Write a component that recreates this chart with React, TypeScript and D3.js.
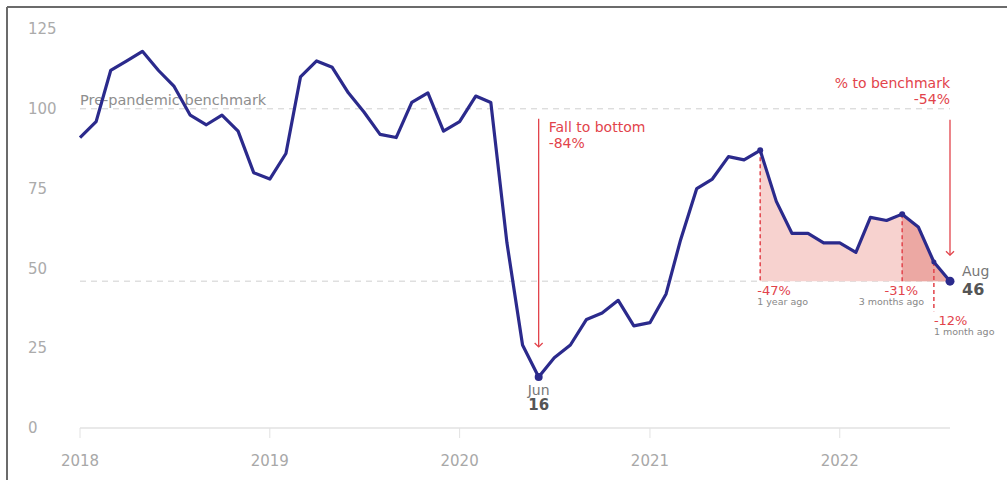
import React from "react";
import * as d3 from "d3";

const startYear = 2018;
const values: number[] = [
  91, 96, 112, 115, 118, 112, 107, 98, 95, 98, 93, 80,
  78, 86, 110, 115, 113, 105, 99, 92, 91, 102, 105, 93,
  96, 104, 102, 58, 26, 16, 22, 26, 34, 36, 40, 32,
  33, 42, 59, 75, 78, 85, 84, 87, 71, 61, 61, 58,
  58, 55, 66, 65, 67, 63, 52, 46,
];
const dates: Date[] = values.map((_, i) => new Date(startYear, i, 1));
const yTicks = [0, 25, 50, 75, 100, 125];
const xTickYears = [2018, 2019, 2020, 2021, 2022];
const benchmark = 100;

const W = 1007;
const H = 480;
const NAVY = "#2b2a8c";
const RED = "#e2434b";
const FONT = "'DejaVu Sans', sans-serif";

export default function App() {
  const x = d3
    .scaleTime()
    .domain([dates[0], dates[dates.length - 1]])
    .range([80, 950]);
  const y = d3.scaleLinear().domain([0, 125]).range([428, 29]);

  const n = values.length;
  const last = values[n - 1];
  const iMin = values.indexOf(d3.min(values) as number);
  const iYear = n - 13;
  const i3m = n - 4;
  const i1m = n - 2;

  const line = d3
    .line<number>()
    .x((_, i) => x(dates[i]))
    .y((d) => y(d));

  const area = d3
    .area<number>()
    .x((d) => x(dates[d]))
    .y0(y(last))
    .y1((d) => y(values[d]));

  const idxYear = d3.range(iYear, n);
  const idx3m = d3.range(i3m, n);

  const pct = (a: number, b: number) => Math.round(((a - b) / b) * 100);

  const xMin = x(dates[iMin]);
  const xLast = x(dates[n - 1]);

  const arrow = (ax: number, y1: number, y2: number) => (
    <g stroke={RED} strokeWidth={1.3} fill="none">
      <line x1={ax} x2={ax} y1={y1} y2={y2} />
      <path d={`M${ax - 4},${y2 - 4} L${ax},${y2} L${ax + 4},${y2 - 4}`} />
    </g>
  );

  return (
    <svg
      width={W}
      height={H}
      style={{ position: "absolute", left: 0, top: 0, background: "#fff" }}
      fontFamily={FONT}
    >
      {/* frame */}
      <line x1={7} x2={W} y1={7} y2={7} stroke="#6b6b6b" strokeWidth={2} />
      <line x1={7} x2={7} y1={7} y2={H} stroke="#6b6b6b" strokeWidth={2} />

      {/* y tick labels */}
      {yTicks.map((t) => (
        <text key={t} x={28} y={y(t)} dy="0.35em" fontSize={15} fill="#ababab">
          {t}
        </text>
      ))}

      {/* x axis */}
      <line x1={80} x2={950} y1={y(0)} y2={y(0)} stroke="#e2e2e2" strokeWidth={1.5} />
      {xTickYears.map((yr) => {
        const xx = x(new Date(yr, 0, 1));
        return (
          <g key={yr}>
            <line x1={xx} x2={xx} y1={y(0)} y2={y(0) + 10} stroke="#e2e2e2" strokeWidth={1} />
            <text x={xx} y={466} textAnchor="middle" fontSize={15} fill="#a8a8a8">
              {yr}
            </text>
          </g>
        );
      })}

      {/* reference lines */}
      <line
        x1={80}
        x2={950}
        y1={y(benchmark)}
        y2={y(benchmark)}
        stroke="#cfcfcf"
        strokeDasharray="6,5"
        strokeWidth={1}
      />
      <line
        x1={80}
        x2={950}
        y1={y(last)}
        y2={y(last)}
        stroke="#cfcfcf"
        strokeDasharray="6,5"
        strokeWidth={1}
      />
      <text x={80} y={y(benchmark) - 4} fontSize={14.5} fill="#8e8e8e">
        Pre-pandemic benchmark
      </text>

      {/* shaded areas */}
      <path d={area(idxYear) || ""} fill="#f7d2cf" />
      <path d={area(idx3m) || ""} fill="#eca8a3" />

      {/* dashed verticals */}
      <line
        x1={x(dates[iYear])}
        x2={x(dates[iYear])}
        y1={y(values[iYear])}
        y2={y(last)}
        stroke={RED}
        strokeWidth={1.5}
        strokeDasharray="4,3"
      />
      <line
        x1={x(dates[i3m])}
        x2={x(dates[i3m])}
        y1={y(values[i3m])}
        y2={y(last)}
        stroke={RED}
        strokeWidth={1.5}
        strokeDasharray="4,3"
      />
      <line
        x1={x(dates[i1m])}
        x2={x(dates[i1m])}
        y1={y(values[i1m])}
        y2={y(last) + 30}
        stroke={RED}
        strokeWidth={1.5}
        strokeDasharray="4,3"
      />

      {/* main line */}
      <path d={line(values) || ""} fill="none" stroke={NAVY} strokeWidth={3.2} strokeLinejoin="round" />

      {/* dots */}
      <circle cx={xMin} cy={y(values[iMin])} r={4} fill={NAVY} />
      <circle cx={x(dates[iYear])} cy={y(values[iYear])} r={3} fill={NAVY} />
      <circle cx={x(dates[i3m])} cy={y(values[i3m])} r={3} fill={NAVY} />
      <circle cx={x(dates[i1m])} cy={y(values[i1m])} r={2.5} fill={NAVY} />
      <circle cx={xLast} cy={y(last)} r={4.5} fill={NAVY} />

      {/* fall to bottom */}
      {arrow(xMin, y(benchmark) + 10, y(values[iMin]) - 30)}
      <text x={xMin + 10} y={132} fontSize={14} fill={RED}>
        Fall to bottom
      </text>
      <text x={xMin + 10} y={148} fontSize={14} fill={RED}>
        {pct(values[iMin], benchmark)}%
      </text>
      <text x={xMin} y={395} textAnchor="middle" fontSize={14} fill="#777">
        Jun
      </text>
      <text x={xMin} y={410} textAnchor="middle" fontSize={15} fontWeight={700} fill="#555">
        {values[iMin]}
      </text>

      {/* % to benchmark */}
      <text x={xLast} y={88} textAnchor="end" fontSize={14} fill={RED}>
        % to benchmark
      </text>
      <text x={xLast} y={104} textAnchor="end" fontSize={14} fill={RED}>
        {pct(last, benchmark)}%
      </text>
      {arrow(xLast, y(benchmark) + 11, y(last) - 26)}

      <text x={xLast + 12} y={276} fontSize={14} fill="#777">
        Aug
      </text>
      <text x={xLast + 12} y={295} fontSize={16} fontWeight={700} fill="#555">
        {last}
      </text>

      {/* change labels */}
      <text x={x(dates[iYear]) - 3} y={295} fontSize={13} fill={RED}>
        {pct(last, values[iYear])}%
      </text>
      <text x={x(dates[iYear]) - 3} y={305} fontSize={9.5} fill="#888">
        1 year ago
      </text>
      <text x={x(dates[i3m]) + 16} y={295} textAnchor="end" fontSize={13} fill={RED}>
        {pct(last, values[i3m])}%
      </text>
      <text x={x(dates[i3m]) + 22} y={305} textAnchor="end" fontSize={9.5} fill="#888">
        3 months ago
      </text>
      <text x={x(dates[i1m])} y={325} fontSize={13} fill={RED}>
        {pct(last, values[i1m])}%
      </text>
      <text x={x(dates[i1m])} y={335} fontSize={9.5} fill="#888">
        1 month ago
      </text>
    </svg>
  );
}
